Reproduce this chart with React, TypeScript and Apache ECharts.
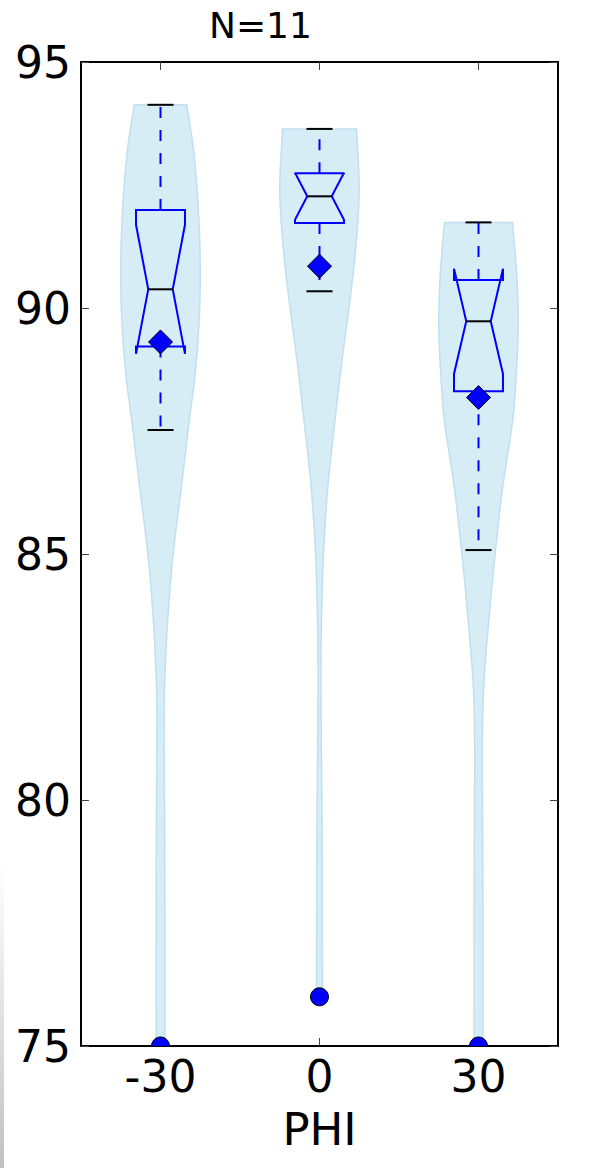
import React, { useEffect, useRef } from "react";
import * as echarts from "echarts";

// ---- data ----
const phiCategories = [-30, 0, 30];
const sampleSize = 11;
const whiskerLow = [87.52, 90.34, 85.08];
const quartile1 = [89.22, 91.73, 88.31];
const medians = [90.38, 92.27, 89.73];
const quartile3 = [91.99, 92.74, 90.57];
const whiskerHigh = [94.13, 93.64, 91.74];
const means = [89.31, 90.85, 88.18];
const outlierPhi = [-30, 0, 30];
const outlierValues = [75.0, 76.0, 75.0];
const yTicks = [75, 80, 85, 90, 95];

// violin outlines: value levels and relative density (1 = widest)
const violinLevelsM30 = [75, 78, 80, 81.5, 82.3, 83.66, 85.02, 86.37, 87.72, 88.68, 89.7, 90.64, 91.73, 93.08, 94.13];
const violinDensityM30 = [0.11, 0.11, 0.1, 0.09, 0.1, 0.18, 0.32, 0.525, 0.725, 0.875, 0.97, 1.0, 0.97, 0.85, 0.66];
const violinLevels0 = [76, 78, 80, 82.3, 83.66, 85.02, 86.37, 87.72, 88.68, 89.69, 91.04, 92.4, 93.64];
const violinDensity0 = [0.075, 0.07, 0.06, 0.035, 0.05, 0.1, 0.21, 0.39, 0.525, 0.69, 0.89, 1.0, 0.93];
const violinLevels30 = [75, 78, 80, 81.02, 82.3, 83.66, 85.02, 86.37, 87.72, 88.67, 89.69, 90.7, 91.74];
const violinDensity30 = [0.11, 0.11, 0.1, 0.095, 0.13, 0.26, 0.42, 0.61, 0.86, 0.95, 1.0, 0.96, 0.855];

const violinLevels = [violinLevelsM30, violinLevels0, violinLevels30];
const violinDensity = [violinDensityM30, violinDensity0, violinDensity30];

// ---- geometry in data units (category spacing = 30) ----
const SPACING = 30;
const VIOLIN_HALF = 0.25 * SPACING;
const BOX_HALF = 0.154 * SPACING;
const CAP_HALF = 0.082 * SPACING;

const FONT = "DejaVu Sans";

function buildOption() {
  const violinData = phiCategories.map((p, i) => [p, i]);
  const boxData = phiCategories.map((p, i) => [
    p,
    whiskerLow[i],
    quartile1[i],
    medians[i],
    quartile3[i],
    whiskerHigh[i],
  ]);

  return {
    animation: false,
    backgroundColor: "#ffffff",
    grid: { left: 81, top: 62, width: 477, height: 984, containLabel: false },
    graphic: [
      {
        type: "text",
        left: 209,
        top: 7,
        style: { text: "N=" + sampleSize, font: `36px "${FONT}"`, fill: "#000" },
      },
      {
        type: "rect",
        shape: { x: 0, y: 860, width: 4, height: 308 },
        style: {
          fill: new echarts.graphic.LinearGradient(0, 0, 0, 1, [
            { offset: 0, color: "rgba(200,200,200,0)" },
            { offset: 1, color: "#c0c0c0" },
          ]),
        },
      },
    ],
    xAxis: [
      {
        type: "value",
        min: -45,
        max: 45,
        position: "bottom",
        name: "PHI",
        nameLocation: "middle",
        nameGap: 61,
        nameTextStyle: { fontFamily: FONT, fontSize: 45, color: "#000" },
        axisLine: { show: true, onZero: false, lineStyle: { color: "#000", width: 2 } },
        axisTick: { show: true, inside: true, length: 8, customValues: phiCategories, lineStyle: { color: "#444", width: 1 } },
        axisLabel: {
          show: true,
          customValues: phiCategories,
          fontFamily: FONT,
          fontSize: 44,
          color: "#000",
          margin: 8,
          formatter: (v: number) => String(v),
        },
        splitLine: { show: false },
      },
      {
        type: "value",
        min: -45,
        max: 45,
        position: "top",
        axisLine: { show: true, onZero: false, lineStyle: { color: "#000", width: 2 } },
        axisTick: { show: true, inside: true, length: 8, customValues: phiCategories, lineStyle: { color: "#444", width: 1 } },
        axisLabel: { show: false },
        splitLine: { show: false },
      },
    ],
    yAxis: [
      {
        type: "value",
        min: 75,
        max: 95,
        interval: 5,
        position: "left",
        axisLine: { show: true, onZero: false, lineStyle: { color: "#000", width: 2 } },
        axisTick: { show: true, inside: true, length: 8, lineStyle: { color: "#444", width: 1 } },
        axisLabel: {
          show: true,
          fontFamily: FONT,
          fontSize: 44,
          color: "#000",
          margin: 10,
          customValues: yTicks,
        },
        splitLine: { show: false },
      },
      {
        type: "value",
        min: 75,
        max: 95,
        interval: 5,
        position: "right",
        axisLine: { show: true, onZero: false, lineStyle: { color: "#000", width: 2 } },
        axisTick: { show: true, inside: true, length: 8, lineStyle: { color: "#444", width: 1 } },
        axisLabel: { show: false },
        splitLine: { show: false },
      },
    ],
    series: [
      {
        type: "custom",
        name: "violin",
        clip: true,
        z: 1,
        data: violinData,
        encode: { x: 0, y: 1 },
        renderItem: (params: any, api: any) => {
          const x = api.value(0);
          const idx = api.value(1);
          const levels = violinLevels[idx];
          const dens = violinDensity[idx];
          const right: number[][] = [];
          const left: number[][] = [];
          for (let k = 0; k < levels.length; k++) {
            right.push(api.coord([x + dens[k] * VIOLIN_HALF, levels[k]]));
            left.push(api.coord([x - dens[k] * VIOLIN_HALF, levels[k]]));
          }
          left.reverse();
          const n = right.length;
          // duplicate the corner points so the flat ends stay sharp
          const pts = [
            right[0],
            ...right,
            right[n - 1],
            left[0],
            ...left,
            left[n - 1],
          ];
          let minX = Infinity, minY = Infinity, maxX = -Infinity, maxY = -Infinity;
          pts.forEach((p) => {
            minX = Math.min(minX, p[0]);
            maxX = Math.max(maxX, p[0]);
            minY = Math.min(minY, p[1]);
            maxY = Math.max(maxY, p[1]);
          });
          return {
            type: "polygon",
            shape: {
              points: pts,
              smooth: 0.35,
              smoothConstraint: [
                [minX, minY],
                [maxX, maxY],
              ],
            },
            style: { fill: "#d7edf6", stroke: "#bfe0ef", lineWidth: 1.5 },
          };
        },
      },
      {
        type: "custom",
        name: "box",
        clip: true,
        z: 2,
        data: boxData,
        encode: { x: 0, y: [1, 2, 3, 4, 5] },
        renderItem: (params: any, api: any) => {
          const x = api.value(0);
          const wl = api.value(1);
          const q1 = api.value(2);
          const med = api.value(3);
          const q3 = api.value(4);
          const wh = api.value(5);
          const notch = (1.57 * (q3 - q1)) / Math.sqrt(sampleSize);
          const nlo = med - notch;
          const nhi = med + notch;
          const L = x - BOX_HALF;
          const R = x + BOX_HALF;
          const pts = [
            [L, q1],
            [L, nlo],
            [x - BOX_HALF / 2, med],
            [L, nhi],
            [L, q3],
            [R, q3],
            [R, nhi],
            [x + BOX_HALF / 2, med],
            [R, nlo],
            [R, q1],
          ].map((p) => api.coord(p));
          const c = (a: number, b: number) => api.coord([a, b]);
          const line = (p1: number[], p2: number[], style: any) => ({
            type: "line",
            shape: { x1: p1[0], y1: p1[1], x2: p2[0], y2: p2[1] },
            style,
          });
          const dashed = { stroke: "#0000ff", lineWidth: 2, lineDash: [11, 12] };
          const black = { stroke: "#000000", lineWidth: 2 };
          return {
            type: "group",
            children: [
              line(c(x, q3), c(x, wh), dashed),
              line(c(x, q1), c(x, wl), dashed),
              line(c(x - CAP_HALF, wh), c(x + CAP_HALF, wh), black),
              line(c(x - CAP_HALF, wl), c(x + CAP_HALF, wl), black),
              {
                type: "polygon",
                shape: { points: pts },
                style: { fill: "none", stroke: "#0000ff", lineWidth: 2 },
              },
              line(c(x - BOX_HALF / 2, med), c(x + BOX_HALF / 2, med), black),
            ],
          };
        },
      },
      {
        type: "scatter",
        name: "mean",
        z: 3,
        symbol: "diamond",
        symbolSize: 24,
        itemStyle: { color: "#0000ff", opacity: 1, borderColor: "#000", borderWidth: 1 },
        data: phiCategories.map((p, i) => [p, means[i]]),
      },
      {
        type: "custom",
        name: "outliers",
        z: 4,
        clip: true,
        data: outlierPhi.map((p, i) => [p, outlierValues[i]]),
        encode: { x: 0, y: 1 },
        renderItem: (params: any, api: any) => {
          const p = api.coord([api.value(0), api.value(1)]);
          return {
            type: "circle",
            shape: { cx: p[0], cy: p[1], r: 9 },
            style: { fill: "#0000ff", stroke: "#000", lineWidth: 1 },
          };
        },
      },
    ],
  };
}

export default function App() {
  const ref = useRef<HTMLDivElement>(null);
  useEffect(() => {
    if (!ref.current) return;
    const chart = echarts.init(ref.current, null, { renderer: "svg" });
    chart.setOption(buildOption() as any);
    return () => chart.dispose();
  }, []);
  return (
    <div
      ref={ref}
      style={{ position: "absolute", left: 0, top: 0, width: 615, height: 1168 }}
    />
  );
}
